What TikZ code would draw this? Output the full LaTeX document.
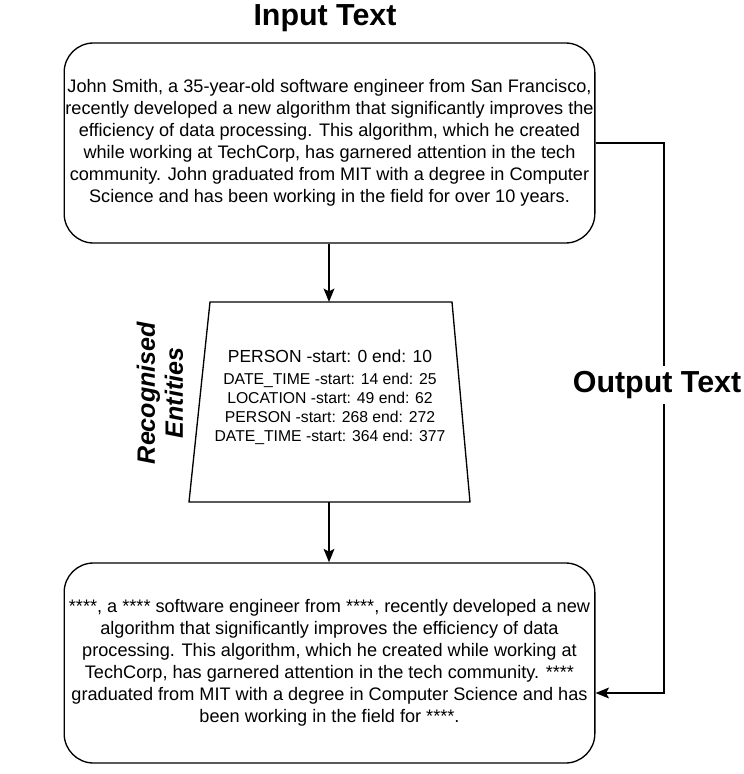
\documentclass[tikz,border=0pt]{standalone}
\usepackage{fontspec}
\setmainfont{Liberation Sans}
\usetikzlibrary{arrows.meta}

\tikzset{
  textbox/.style={draw, line width=1pt, rounded corners=22pt, minimum width=398pt,
    minimum height=150pt, align=center, inner sep=0pt,
    font=\fontsize{13.6}{16.5}\selectfont},
  flow/.style={line width=1.5pt, -{Stealth[length=10pt,width=8pt,inset=2pt]}},
  heading/.style={font=\fontsize{22.8}{26}\selectfont\bfseries, inner sep=1pt},
}
\newcommand{\firstline}[1]{{\fontsize{13.1}{16}\selectfont #1}}

\begin{document}
\begin{tikzpicture}[x=0.75pt,y=0.75pt,yscale=-1,xscale=1]
\useasboundingbox (0,0) rectangle (743,774);

% Input box
\node [textbox] (input) at (329.5,143) {John Smith, a 35-year-old software engineer from San Francisco,\\
recently developed a new algorithm that significantly improves the\\
efficiency of data processing. This algorithm, which he created\\
while working at TechCorp, has garnered attention in the tech\\
community. John graduated from MIT with a degree in Computer\\
Science and has been working in the field for over 10 years.};

% Output box
\node [textbox] (output) at (329.5,663) {****, a **** software engineer from ****, recently developed a new\\
algorithm that significantly improves the efficiency of data\\
processing. This algorithm, which he created while working at\\
TechCorp, has garnered attention in the tech community. ****\\
graduated from MIT with a degree in Computer Science and has\\
been working in the field for ****.};

% Entities trapezium
\coordinate (ent-top) at (329,302);
\coordinate (ent-bot) at (329,502);
\draw [line width=1pt] (210,302) -- (452,302) -- (470,502) -- (189,502) -- cycle;
\node [align=center, inner sep=0pt, font=\fontsize{11.8}{14.25}\selectfont] (entities) at (330,397) {\firstline{PERSON -start: 0 end: 10}\\[2pt]
DATE\_TIME -start: 14 end: 25\\
LOCATION -start: 49 end: 62\\
PERSON -start: 268 end: 272\\
DATE\_TIME -start: 364 end: 377};

% Labels
\node [heading] (inlabel) at (325,18) {Input Text};
\node [font=\fontsize{18.8}{21}\selectfont\bfseries\itshape, rotate=90, align=center, inner sep=0pt] (entlabel) at (160,393) {Recognised\\Entities};

% Connectors
\draw [flow] (input.south -| ent-top) -- (ent-top);
\draw [flow] (ent-bot) -- (output.north -| ent-bot);
\coordinate (side-top) at (664,143);
\coordinate (side-bot) at (664,693);
\draw [flow] (input.east) -- (side-top) -- (side-bot) -- (output.east |- side-bot);
\node [heading, fill=white, inner ysep=4pt] (outlabel) at (657,385) {Output Text};

\end{tikzpicture}
\end{document}
